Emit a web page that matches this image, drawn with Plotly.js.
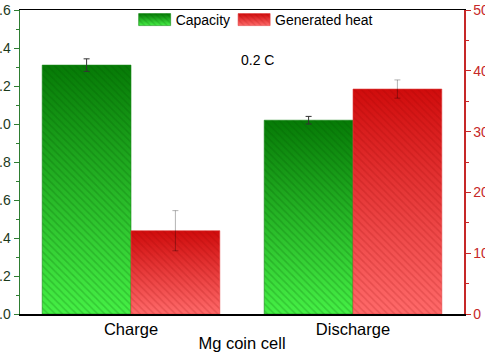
<!DOCTYPE html>
<html>
<head>
<meta charset="utf-8">
<script src="https://cdn.plot.ly/plotly-3.0.1.min.js"></script>
<style>html,body{margin:0;padding:0;background:#fff;}#chart{width:485px;height:360px;}</style>
</head>
<body>
<div id="chart"></div>
<script>
var categories = ["Charge", "Discharge"];
var capacity = [1.31, 1.02];
var capacityErr = [0.033, 0.02];
var heat = [13.7, 37.0];
var heatErr = [3.3, 1.5];
var seriesNames = ["Capacity", "Generated heat"];
var annotationText = "0.2 C";
var xTitle = "Mg coin cell";

var FONT = "Liberation Sans, Arial, sans-serif";
var greenLine = "#2e7d32";
var redAxis = "#c62828";

var traces = [
  {
    type: "bar", name: seriesNames[0], x: categories, y: capacity,
    xaxis: "x", yaxis: "y",
    width: 0.4, offset: -0.4,
    marker: {
      color: "#1fa51f",
      line: {color: "#1a8a1a", width: 0.6},
      pattern: {shape: "\\", bgcolor: "rgba(0,0,0,0)", fgcolor: "rgba(0,80,0,0.22)", size: 5, solidity: 0.3}
    },
    error_y: {type: "data", array: capacityErr, visible: true, color: "#333", thickness: 1, width: 3}
  },
  {
    type: "bar", name: seriesNames[1], x: categories, y: heat,
    xaxis: "x", yaxis: "y2",
    width: 0.4, offset: 0,
    marker: {
      color: "#e53030",
      line: {color: "#e04040", width: 0.6},
      pattern: {shape: "\\", bgcolor: "rgba(0,0,0,0)", fgcolor: "rgba(140,0,0,0.18)", size: 5, solidity: 0.3}
    },
    error_y: {type: "data", array: heatErr, visible: true, color: "rgba(0,0,0,0.3)", thickness: 1, width: 3}
  }
];

var layout = {
  width: 485, height: 360,
  margin: {l: 20, r: 21, t: 10, b: 46, autoexpand: false},
  paper_bgcolor: "#fff", plot_bgcolor: "#fff",
  font: {family: FONT, size: 14, color: "#000"},
  showlegend: true,
  legend: {orientation: "h", x: 0.533, xanchor: "center", y: 1.0, yanchor: "top",
           font: {family: FONT, size: 14, color: "#000"}, bgcolor: "rgba(0,0,0,0)", itemwidth: 30, traceorder: "normal"},
  xaxis: {
    type: "category", range: [-0.5, 1.5], automargin: false,
    showline: true, linecolor: "#000", linewidth: 1.5, mirror: true,
    ticks: "", showgrid: false, zeroline: false,
    tickfont: {family: FONT, size: 16.5, color: "#000"},
    title: {text: xTitle, font: {family: FONT, size: 16.5, color: "#000"}, standoff: 0}
  },
  yaxis: {
    range: [0, 1.6], dtick: 0.2, tickformat: ".1f", automargin: false,
    showline: true, linecolor: greenLine, linewidth: 1.5,
    ticks: "outside", ticklen: 5, tickwidth: 1, tickcolor: greenLine,
    minor: {ticks: "outside", ticklen: 3, dtick: 0.1, tickcolor: greenLine},
    showgrid: false, zeroline: false,
    tickfont: {family: FONT, size: 14, color: "#1b3a1b"}
  },
  yaxis2: {
    overlaying: "y", side: "right", anchor: "x", automargin: false,
    range: [0, 50], dtick: 10,
    showline: true, linecolor: redAxis, linewidth: 1.5,
    ticks: "outside", ticklen: 5, tickwidth: 1, tickcolor: redAxis,
    minor: {ticks: "outside", ticklen: 3, dtick: 5, tickcolor: redAxis},
    showgrid: false, zeroline: false,
    tickfont: {family: FONT, size: 14, color: redAxis}
  },
  annotations: [{
    text: annotationText, xref: "paper", yref: "paper", x: 0.535, y: 0.835,
    xanchor: "center", yanchor: "middle",
    showarrow: false, font: {family: FONT, size: 14, color: "#000"}
  }]
};

function addGradients(gd) {
  var svg = gd.querySelector("svg.main-svg");
  var ns = "http://www.w3.org/2000/svg";
  var defs = svg.querySelector("defs") || svg.insertBefore(document.createElementNS(ns, "defs"), svg.firstChild);
  var grads = [["gGreen", "#067a06", "#46f046"], ["gRed", "#d00c0c", "#ff6a6a"]];
  grads.forEach(function (g) {
    var lg = document.createElementNS(ns, "linearGradient");
    lg.setAttribute("id", g[0]);
    lg.setAttribute("x1", "0"); lg.setAttribute("y1", "0");
    lg.setAttribute("x2", "0"); lg.setAttribute("y2", "1");
    [[0, g[1]], [1, g[2]]].forEach(function (s) {
      var st = document.createElementNS(ns, "stop");
      st.setAttribute("offset", s[0]); st.setAttribute("stop-color", s[1]);
      lg.appendChild(st);
    });
    defs.appendChild(lg);
  });
  var traceGroups = gd.querySelectorAll(".barlayer .trace.bars");
  traceGroups.forEach(function (tg, i) {
    tg.querySelectorAll(".point path").forEach(function (p) {
      var c = p.cloneNode(false);
      c.style.fill = "url(#" + grads[i][0] + ")";
      c.style.fillOpacity = 1;
      c.style.stroke = "none";
      p.parentNode.insertBefore(c, p);
    });
  });
  var legendItems = gd.querySelectorAll(".legend .traces");
  legendItems.forEach(function (li, i) {
    li.querySelectorAll(".legendpoints path").forEach(function (p) {
      p.setAttribute("d", "M-17,-6H15V6H-17Z");
      var c = p.cloneNode(false);
      c.style.fill = "url(#" + grads[i][0] + ")";
      c.style.stroke = "none";
      p.parentNode.insertBefore(c, p);
    });
  });
  var leg = gd.querySelector(".legend");
  if (leg) {
    var tr = leg.getAttribute("transform") || "";
    var m = tr.match(/translate\(\s*([-\d.]+)[ ,]+([-\d.]+)\s*\)/);
    if (m) leg.setAttribute("transform", "translate(" + m[1] + "," + (parseFloat(m[2]) - 6) + ")");
  }
}

Plotly.newPlot("chart", traces, layout, {displayModeBar: false, staticPlot: true}).then(addGradients);
</script>
</body>
</html>
